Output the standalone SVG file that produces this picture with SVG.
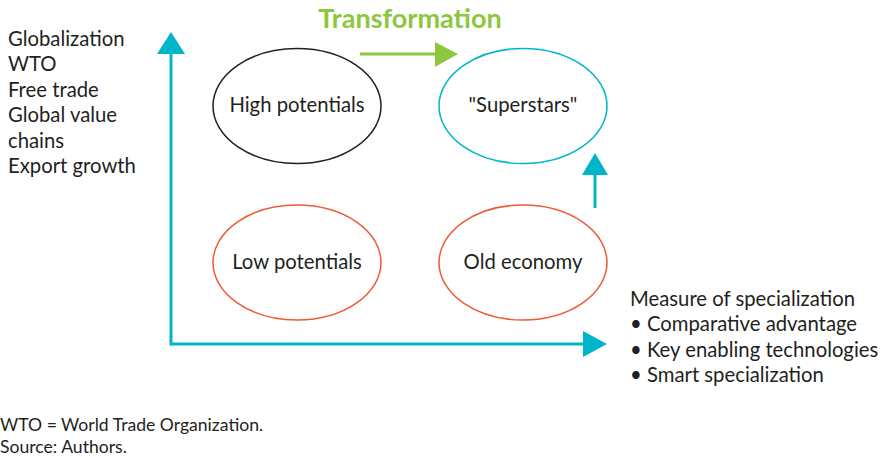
<svg xmlns="http://www.w3.org/2000/svg" width="883" height="457" viewBox="0 0 883 457">
<style>
text{font-family:Lato,"Open Sans","Liberation Sans",sans-serif;fill:#231f20;}
.t{font-size:20.3px;}
.n{font-size:20.3px;text-anchor:middle;}
.f{font-size:17.6px;}
.ax{stroke:#00b5c8;stroke-width:3;fill:none;}
.ah{fill:#00b5c8;}
</style>
<rect width="883" height="457" fill="#fff"/>
<g id="connectors">
<polyline class="ax" points="171,54 171,344 584,344"/>
<polygon class="ah" points="171,32 157,54 185,54"/>
<polygon class="ah" points="607,344 583,331 583,357"/>
<line x1="595" y1="208" x2="595" y2="174" class="ax"/>
<polygon class="ah" points="595,153 582,175 608,175"/>
<line x1="360" y1="54" x2="437" y2="54" stroke="#8dc63f" stroke-width="3"/>
<polygon points="458,54 435,42 435,67" fill="#8dc63f"/>
</g>
<text x="410" y="28" font-size="27" font-weight="bold" text-anchor="middle" style="fill:#8dc63f">Transformation</text>
<g id="high"><ellipse cx="297" cy="106" rx="84" ry="57.5" fill="none" stroke="#231f20" stroke-width="1.5"/><text class="n" x="297" y="112">High potentials</text></g>
<g id="superstars"><ellipse cx="523" cy="106" rx="84" ry="57.5" fill="none" stroke="#00b5c8" stroke-width="1.5"/><text class="n" x="523" y="112">"Superstars"</text></g>
<g id="low"><ellipse cx="297" cy="262.5" rx="84" ry="57.5" fill="none" stroke="#ef5a34" stroke-width="1.5"/><text class="n" x="297" y="269">Low potentials</text></g>
<g id="old"><ellipse cx="523" cy="262.5" rx="84" ry="57.5" fill="none" stroke="#ef5a34" stroke-width="1.5"/><text class="n" x="523" y="269">Old economy</text></g>
<g id="left">
<text class="t" x="8" y="46">Globalization</text>
<text class="t" x="8" y="71">WTO</text>
<text class="t" x="8" y="97">Free trade</text>
<text class="t" x="8" y="122">Global value</text>
<text class="t" x="8" y="148">chains</text>
<text class="t" x="8" y="173">Export growth</text>
</g>
<g id="right">
<text class="t" x="630" y="306">Measure of specialization</text>
<text class="t" x="630" y="331">• Comparative advantage</text>
<text class="t" x="630" y="357">• Key enabling technologies</text>
<text class="t" x="630" y="382">• Smart specialization</text>
</g>
<text class="f" x="0" y="431">WTO = World Trade Organization.</text>
<text class="f" x="0" y="453">Source: Authors.</text>
</svg>
